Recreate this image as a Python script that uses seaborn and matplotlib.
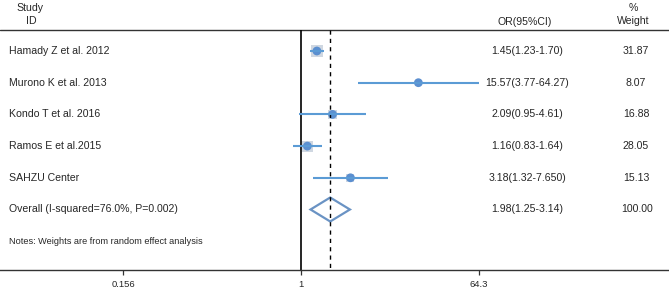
import numpy as np
import pandas as pd
import matplotlib
matplotlib.use("Agg")
import matplotlib.pyplot as plt
import matplotlib.ticker as mticker
from matplotlib.patches import Polygon
import seaborn as sns

# ---------------- data ----------------
studies = ["Hamady Z et al. 2012", "Murono K et al. 2013", "Kondo T et al. 2016",
           "Ramos E et al.2015", "SAHZU Center"]
or_vals = [1.45, 15.57, 2.09, 1.16, 3.18]
ci_low = [1.23, 3.77, 0.95, 0.83, 1.32]
ci_high = [1.70, 64.27, 4.61, 1.64, 7.650]
or_labels = ["1.45(1.23-1.70)", "15.57(3.77-64.27)", "2.09(0.95-4.61)",
             "1.16(0.83-1.64)", "3.18(1.32-7.650)"]
weights = [31.87, 8.07, 16.88, 28.05, 15.13]
weight_labels = ["31.87", "8.07", "16.88", "28.05", "15.13"]

overall_label = "Overall (I-squared=76.0%, P=0.002)"
overall_or = 1.98
overall_low = 1.25
overall_high = 3.14
overall_text = "1.98(1.25-3.14)"
overall_weight = "100.00"
notes = "Notes: Weights are from random effect analysis"

tick_vals = [1 / 64.3, 1, 64.3]
tick_labels = ["0.156", "1", "64.3"]

df = pd.DataFrame({"study": studies, "or": or_vals, "lo": ci_low, "hi": ci_high,
                   "w": weights, "row": np.arange(len(studies))})

# ---------------- figure ----------------
sns.set_theme(style="white")
plt.rcParams["font.family"] = ["Liberation Sans", "DejaVu Sans"]

W, H = 669, 292
fig = plt.figure(figsize=(W / 100, H / 100), dpi=100)
ax = fig.add_axes([0, 0, 1, 1])

# pixel <-> row helpers (row 0 at pixel y=51, spacing 31.7 px)
def row_of(py):
    return (py - 51) / 31.7

px_per_ln = 178 / np.log(64.3)
ax.set_xscale("log")
ax.set_xlim(np.exp(-301 / px_per_ln), np.exp((W - 301) / px_per_ln))
ax.set_ylim(row_of(H), row_of(0))

line_col = "#5b9bd5"
dot_col = "#5b8fd0"
sq_col = "#a9b6c9"

# header rule and axis
top_row = row_of(30)
axis_row = row_of(270)
ax.axhline(top_row, color="#333333", lw=1.0)

# reference lines
ax.vlines(1, top_row, axis_row, color="black", lw=1.2)
ax.vlines(overall_or, top_row, axis_row, color="black", lw=1.0, linestyles=(0, (3, 3)))

# CIs
ax.hlines(df["row"], df["lo"], df["hi"], color=line_col, lw=1.5)

# weight squares
sns.scatterplot(data=df, x="or", y="row", size="w", sizes=(18, 70), marker="s",
                color=sq_col, alpha=0.55, edgecolor="none", legend=False, ax=ax)
# point estimates
sns.scatterplot(data=df, x="or", y="row", marker="o", s=40, color=dot_col,
                edgecolor="none", legend=False, ax=ax)

# overall diamond
orow = len(studies)
dh = 12 / 31.7
diamond = Polygon([[overall_low, orow], [overall_or, orow - dh],
                   [overall_high, orow], [overall_or, orow + dh]],
                  closed=True, fill=False, edgecolor="#6a93c4", lw=1.6)
ax.add_patch(diamond)

# text columns (x in axes fraction)
tr = ax.get_yaxis_transform()
fs = 7.6
ax.text(30 / W, row_of(8), "Study", transform=tr, ha="center", va="center", fontsize=fs)
ax.text(31 / W, row_of(21), "ID", transform=tr, ha="center", va="center", fontsize=fs)
ax.text(525 / W, row_of(22), "OR(95%CI)", transform=tr, ha="center", va="center", fontsize=fs)
ax.text(633 / W, row_of(8), "%", transform=tr, ha="center", va="center", fontsize=fs)
ax.text(633 / W, row_of(21), "Weight", transform=tr, ha="center", va="center", fontsize=fs)

for i, s in enumerate(studies):
    ax.text(9 / W, i, s, transform=tr, ha="left", va="center", fontsize=fs)
    ax.text(527 / W, i, or_labels[i], transform=tr, ha="center", va="center", fontsize=fs)
    ax.text(636 / W, i, weight_labels[i], transform=tr, ha="center", va="center", fontsize=fs)

ax.text(9 / W, orow, overall_label, transform=tr, ha="left", va="center", fontsize=fs)
ax.text(527 / W, orow, overall_text, transform=tr, ha="center", va="center", fontsize=fs)
ax.text(637 / W, orow, overall_weight, transform=tr, ha="center", va="center", fontsize=fs)
ax.text(9 / W, orow + 1, notes, transform=tr, ha="left", va="center", fontsize=6.6)

# x axis
for sp in ["top", "left", "right"]:
    ax.spines[sp].set_visible(False)
ax.spines["bottom"].set_position(("data", axis_row))
ax.spines["bottom"].set_color("#333333")
ax.spines["bottom"].set_linewidth(1.0)
ax.xaxis.set_major_locator(mticker.FixedLocator(tick_vals))
ax.xaxis.set_minor_locator(mticker.NullLocator())
ax.set_xticklabels(tick_labels)
ax.tick_params(axis="x", direction="out", length=3.5, width=0.9, color="#333333",
               labelsize=6.8, pad=4, bottom=True)
ax.set_yticks([])
ax.set_xlabel("")
ax.set_ylabel("")

fig.savefig("out.png", dpi=100)
